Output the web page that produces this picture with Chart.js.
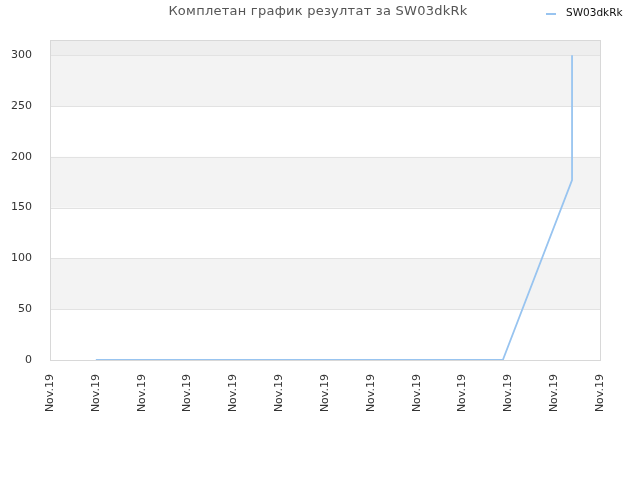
<!DOCTYPE html>
<html>
<head>
<meta charset="utf-8">
<script src="https://cdn.jsdelivr.net/npm/chart.js@4/dist/chart.umd.min.js"></script>
<style>
  html, body { margin: 0; padding: 0; background: #fff; }
  #wrap { width: 640px; height: 480px; position: relative; }
</style>
</head>
<body>
<div id="wrap"><canvas id="myChart" width="640" height="480"></canvas></div>
<script>
const chartTitle = 'Комплетан график резултат за SW03dkRk';
const seriesName = 'SW03dkRk';
const tickLabel = 'Nov.19';
// x positions on the date axis (tick index), y = result
const xValues = [1, 9.88, 11.39, 11.39];
const yValues = [0, 0, 177, 300];
const lineColor = '#98c4f0';

const points = xValues.map((x, i) => ({ x: x, y: yValues[i] }));

// alternating bands behind the plot + border, pChart style
const bandsPlugin = {
    id: 'bands',
    beforeDatasetsDraw(chart) {
        const { ctx, chartArea: a, scales: { y } } = chart;
        const ticks = y.ticks.map(t => t.value);
        ctx.save();
        for (let i = 0; i < ticks.length; i++) {
            const lo = ticks[i];
            const hi = i + 1 < ticks.length ? ticks[i + 1] : y.max;
            let fill = null;
            if (i === ticks.length - 1) fill = '#eeeeee';
            else if (i % 2 === 1) fill = '#f3f3f3';
            if (!fill) continue;
            const top = y.getPixelForValue(hi);
            const bot = y.getPixelForValue(lo);
            ctx.fillStyle = fill;
            ctx.fillRect(a.left, top, a.right - a.left, bot - top);
        }
        ctx.strokeStyle = '#e2e2e2';
        ctx.lineWidth = 1;
        ticks.forEach(v => {
            const py = Math.round(y.getPixelForValue(v)) + 0.5;
            ctx.beginPath();
            ctx.moveTo(a.left, py);
            ctx.lineTo(a.right, py);
            ctx.stroke();
        });
        ctx.strokeStyle = '#d8d8d8';
        ctx.strokeRect(Math.round(a.left) + 0.5, Math.round(a.top) + 0.5,
            Math.round(a.right - a.left), Math.round(a.bottom - a.top));
        ctx.restore();
    }
};

const headerPlugin = {
    id: 'header',
    afterDraw(chart) {
        const ctx = chart.ctx;
        ctx.save();
        ctx.font = '13px "DejaVu Sans"';
        ctx.letterSpacing = '0.25px';
        ctx.fillStyle = '#555555';
        ctx.textAlign = 'center';
        ctx.textBaseline = 'middle';
        ctx.fillText(chartTitle, 318, 12);
        ctx.letterSpacing = '0px';
        ctx.strokeStyle = lineColor;
        ctx.lineWidth = 2;
        ctx.beginPath();
        ctx.moveTo(546, 14);
        ctx.lineTo(556, 14);
        ctx.stroke();
        ctx.font = '10.5px "DejaVu Sans"';
        ctx.fillStyle = '#111111';
        ctx.textAlign = 'left';
        ctx.fillText(seriesName, 566, 13);
        ctx.restore();
    }
};

const ctx = document.getElementById('myChart').getContext('2d');
new Chart(ctx, {
    type: 'line',
    data: {
        datasets: [{
            label: seriesName,
            data: points,
            borderColor: lineColor,
            borderWidth: 1.8,
            pointRadius: 0,
            fill: false,
            tension: 0
        }]
    },
    options: {
        responsive: false,
        animation: false,
        layout: { padding: { top: 40, right: 40, left: 0, bottom: 0 } },
        plugins: {
            legend: { display: false },
            title: { display: false },
            tooltip: { enabled: false }
        },
        scales: {
            x: {
                type: 'linear',
                min: 0,
                max: 12,
                grid: { display: false },
                border: { display: false },
                ticks: {
                    stepSize: 1,
                    minRotation: 90,
                    maxRotation: 90,
                    padding: 6,
                    color: '#333333',
                    font: { family: 'DejaVu Sans', size: 11 },
                    callback: () => tickLabel
                },
                afterFit(s) { s.height = 120; }
            },
            y: {
                min: 0,
                max: 315,
                grid: { display: false },
                border: { display: false },
                ticks: {
                    stepSize: 50,
                    padding: 10,
                    color: '#333333',
                    font: { family: 'DejaVu Sans', size: 11 },
                    callback: v => (v % 50 === 0 ? v : null)
                },
                afterFit(s) { s.width = 50; }
            }
        }
    },
    plugins: [bandsPlugin, headerPlugin]
});
</script>
</body>
</html>
